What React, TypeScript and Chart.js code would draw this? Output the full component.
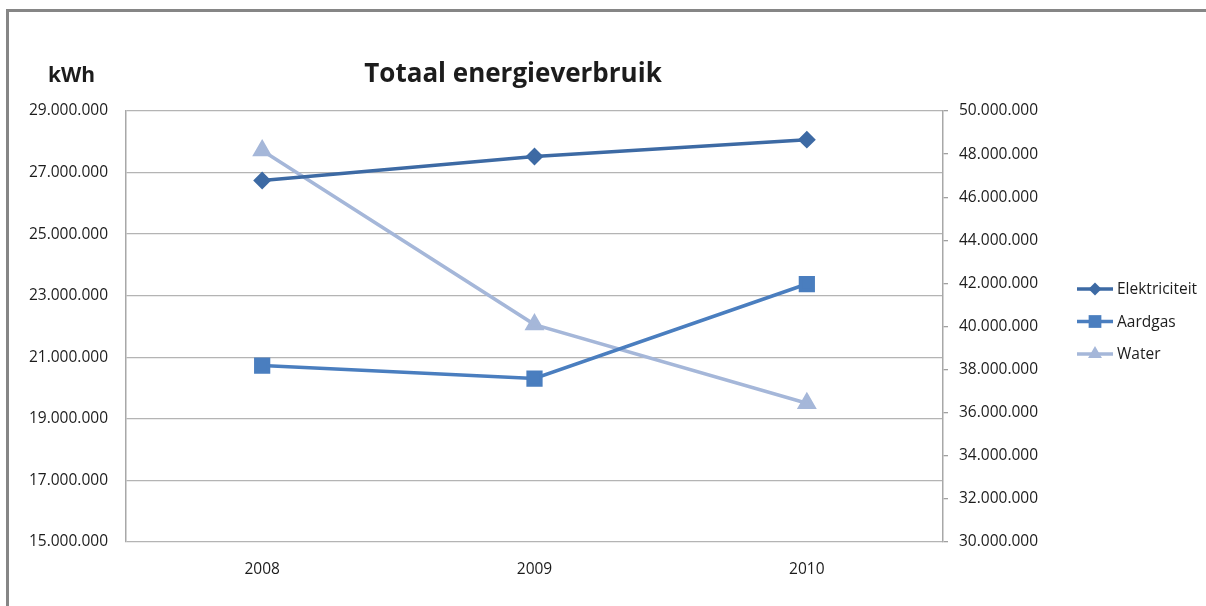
import React, { useEffect, useRef } from "react";
import { Chart, registerables } from "chart.js";

Chart.register(...registerables);

const title = "Totaal energieverbruik";
const unitLabel = "kWh";
const years = ["2008", "2009", "2010"];
const elektriciteit = [26740000, 27520000, 28070000];
const aardgas = [20730000, 20310000, 23380000];
const water = [48170000, 40090000, 36440000];
const seriesNames = ["Elektriciteit", "Aardgas", "Water"];
const seriesColors = ["#3D6AA4", "#4A7EBF", "#A5B7D9"];

const FONT = "'Open Sans', 'DejaVu Sans', sans-serif";
const TEXT = "#1c1c1c";

function fmt(v: number): string {
  const s = Math.round(v).toString();
  return s.replace(/\B(?=(\d{3})+(?!\d))/g, ".");
}

function drawMarker(ctx: CanvasRenderingContext2D, kind: string, x: number, y: number, r: number) {
  ctx.beginPath();
  if (kind === "rectRot") {
    ctx.moveTo(x, y - r);
    ctx.lineTo(x + r, y);
    ctx.lineTo(x, y + r);
    ctx.lineTo(x - r, y);
  } else if (kind === "rect") {
    const h = r * Math.SQRT1_2;
    ctx.rect(x - h, y - h, 2 * h, 2 * h);
  } else {
    const a = (2 * Math.PI) / 3;
    for (let i = 0; i < 3; i++) {
      const px = x + Math.sin(i * a) * r;
      const py = y - Math.cos(i * a) * r;
      if (i === 0) ctx.moveTo(px, py);
      else ctx.lineTo(px, py);
    }
  }
  ctx.closePath();
  ctx.fill();
}

const decorPlugin = {
  id: "decor",
  afterDraw(chart: any) {
    const ctx: CanvasRenderingContext2D = chart.ctx;
    ctx.save();
    ctx.fillStyle = TEXT;
    ctx.textBaseline = "alphabetic";
    ctx.font = `bold 26px ${FONT}`;
    ctx.textAlign = "center";
    ctx.fillText(title, 513, 82);
    ctx.font = `bold 21px ${FONT}`;
    ctx.textAlign = "left";
    ctx.fillText(unitLabel, 48, 82);

    // legend
    const ds = chart.data.datasets;
    ds.forEach((d: any, i: number) => {
      const y = 289 + i * 32.5;
      ctx.strokeStyle = d.borderColor;
      ctx.lineWidth = 3.5;
      ctx.beginPath();
      ctx.moveTo(1077, y);
      ctx.lineTo(1113, y);
      ctx.stroke();
      ctx.fillStyle = d.backgroundColor;
      drawMarker(ctx, d.pointStyle, 1095, y, d.pointRadius);
      ctx.fillStyle = TEXT;
      ctx.font = `15.5px ${FONT}`;
      ctx.textAlign = "left";
      ctx.textBaseline = "middle";
      ctx.fillText(d.label, 1117, y + 1);
    });
    ctx.restore();
  },
};

export default function App() {
  const ref = useRef<HTMLCanvasElement>(null);

  useEffect(() => {
    if (!ref.current) return;
    const chart = new Chart(ref.current, {
      type: "line",
      data: {
        labels: years,
        datasets: [
          {
            label: seriesNames[0],
            data: elektriciteit,
            borderColor: seriesColors[0],
            backgroundColor: seriesColors[0],
            pointStyle: "rectRot",
            pointRadius: 6.5,
            borderWidth: 3.5,
            yAxisID: "y",
          },
          {
            label: seriesNames[1],
            data: aardgas,
            borderColor: seriesColors[1],
            backgroundColor: seriesColors[1],
            pointStyle: "rect",
            pointRadius: 9,
            borderWidth: 3.5,
            yAxisID: "y",
          },
          {
            label: seriesNames[2],
            data: water,
            borderColor: seriesColors[2],
            backgroundColor: seriesColors[2],
            pointStyle: "triangle",
            pointRadius: 8,
            borderWidth: 3.5,
            yAxisID: "y1",
          },
        ] as any,
      },
      options: {
        animation: false,
        responsive: false,
        devicePixelRatio: 1,
        layout: { padding: { top: 111, left: 0, right: 0, bottom: 0 } },
        elements: {
          line: { tension: 0 },
          point: { borderWidth: 0, hoverRadius: 8 } as any,
        },
        plugins: {
          legend: { display: false },
          title: { display: false },
          tooltip: { enabled: false },
        },
        scales: {
          x: {
            offset: true,
            grid: { display: false, drawTicks: false },
            border: { display: false },
            ticks: { color: TEXT, font: { family: FONT, size: 15.5 }, padding: 18 },
            afterFit: (s: any) => {
              s.height = 64;
            },
          },
          y: {
            position: "left",
            min: 15000000,
            max: 29000000,
            grid: { color: "#B4B4B4", lineWidth: 1.3, drawTicks: false },
            border: { display: true, color: "#A8A8A8", width: 1.5 },
            ticks: {
              stepSize: 2000000,
              padding: 18,
              color: TEXT,
              font: { family: FONT, size: 15.5 },
              callback: (v: any) => fmt(Number(v)),
            },
            afterFit: (s: any) => {
              s.width = 126;
            },
          },
          y1: {
            position: "right",
            min: 30000000,
            max: 50000000,
            grid: { drawOnChartArea: false, drawTicks: true, tickLength: 5, color: "#A0A0A0", lineWidth: 1.3 },
            border: { display: true, color: "#A8A8A8", width: 1.5 },
            ticks: {
              stepSize: 2000000,
              padding: 11,
              color: TEXT,
              font: { family: FONT, size: 15.5 },
              callback: (v: any) => fmt(Number(v)),
            },
            afterFit: (s: any) => {
              s.width = 263;
            },
          },
        },
      } as any,
      plugins: [decorPlugin],
    });
    return () => chart.destroy();
  }, []);

  return (
    <div style={{ position: "fixed", left: 0, top: 0, width: 1206, height: 606, background: "#fff", overflow: "hidden" }}>
      <div
        style={{
          position: "absolute",
          left: 6,
          top: 9,
          width: 1220,
          height: 620,
          border: "3px solid #868686",
          boxSizing: "border-box",
        }}
      />
      <canvas ref={ref} width={1206} height={606} style={{ position: "absolute", left: 0, top: 0, width: 1206, height: 606 }} />
    </div>
  );
}
